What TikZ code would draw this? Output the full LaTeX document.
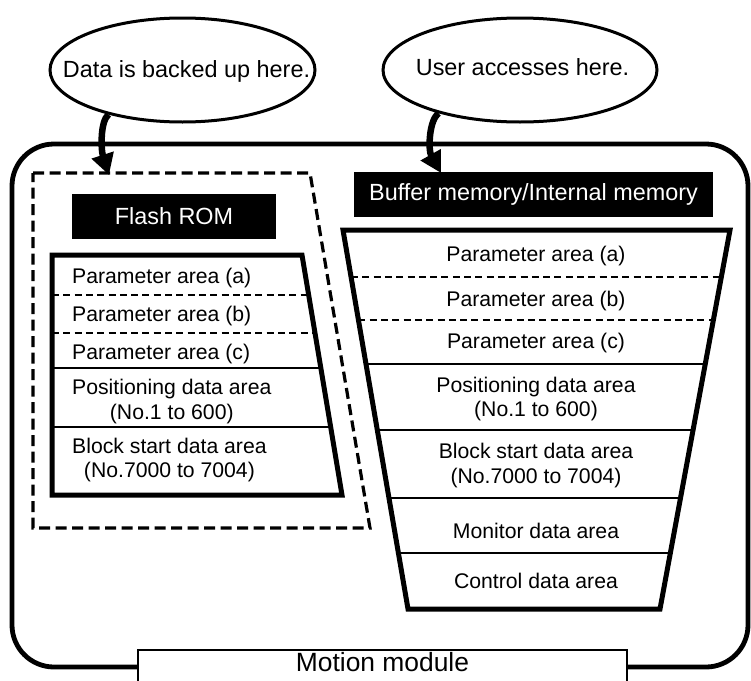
\documentclass[tikz,border=0pt]{standalone}
\usepackage{fontspec}
\setmainfont{Liberation Sans}
\usetikzlibrary{arrows.meta,shapes.geometric,calc}

\begin{document}
\begin{tikzpicture}[x=1pt,y=-1pt,
    cell/.style={inner sep=0pt, align=center, font=\fontsize{21.2}{24.5}\selectfont},
    hd/.style={fill=black, text=white, inner sep=0pt, minimum height=45pt, font=\fontsize{23.4}{28}\selectfont},
    bubble/.style={ellipse, draw, line width=3pt, inner sep=0pt, minimum height=104pt},
    bubtext/.style={inner sep=0pt, font=\fontsize{23.4}{28}\selectfont},
    bigarrow/.style={line width=6.5pt, -{Triangle[length=21pt,width=22pt]}},
    frame/.style={line width=5pt, line join=miter},
    sep/.style={line width=2.5pt},
    dsep/.style={line width=2.2pt, dash pattern=on 7pt off 4.3pt},
  ]
    \useasboundingbox (0,0) rectangle (751,680);

    % module outline
    \draw[line width=4.8pt, rounded corners=42pt] (12,144) rectangle (748,667);
    \filldraw[fill=white, line width=1.8pt] (138,700) -- (138,650) -- (627,650) -- (627,700);
    \node[font=\fontsize{26.4}{30}\selectfont, inner sep=0pt] (mod) at (382.5,662.5) {Motion module};

    % bubbles
    \node[bubble, minimum width=265pt] (bkup) at (182.5,70) {};
    \node[bubtext, anchor=base] (bkuptxt) at (186.5,77) {Data is backed up here.};
    \node[bubble, minimum width=274pt] (acc) at (520,70) {};
    \node[bubtext, anchor=base] (acctxt) at (522.5,75) {User accesses here.};

    \coordinate (romtop) at (109,175);
    \coordinate (buftop) at (441,173);
    \draw[bigarrow] (bkup.211) .. controls (100,122) and (101,150) .. (romtop);
    \draw[bigarrow] (acc.208) .. controls (429,120) and (428,150) .. (buftop);

    % flash rom side
    \draw[line width=3.2pt, dash pattern=on 11pt off 5.5pt] (33,173) -- (310,173) -- (370,528) -- (33,528) -- cycle;
    \node[hd, minimum width=204pt] (rom) at (174,216) {Flash ROM};
    \coordinate (ltl) at (52,255);
    \coordinate (ltr) at (302,255);
    \coordinate (lbr) at (342,495);
    \coordinate (lbl) at (52,495);
    \foreach \t in {0.1667,0.325}
      \draw[dsep] ($(ltl)!\t!(lbl)$) -- ($(ltr)!\t!(lbr)$);
    \foreach \t in {0.471,0.7167}
      \draw[sep] ($(ltl)!\t!(lbl)$) -- ($(ltr)!\t!(lbr)$);
    \draw[frame] (ltl) -- (ltr) -- (lbr) -- (lbl) -- cycle;

    \node[cell, anchor=west] (la) at (72,278.5) {Parameter area (a)};
    \node[cell, anchor=west] (lb) at (72,316) {Parameter area (b)};
    \node[cell, anchor=west] (lc) at (72,354) {Parameter area (c)};
    \node[cell, anchor=west] (lpos) at (72,401.5) {Positioning data area\\(No.1 to 600)};
    \node[cell, anchor=west] (lblk) at (72,460) {Block start data area\\(No.7000 to 7004)};

    % buffer memory side
    \node[hd, minimum width=359pt] (buf) at (533.5,194) {Buffer memory/Internal memory};
    \coordinate (rtl) at (343,230);
    \coordinate (rtr) at (730,230);
    \coordinate (rbr) at (660,609);
    \coordinate (rbl) at (408,609);
    \foreach \t in {0.124,0.2375}
      \draw[dsep] ($(rtl)!\t!(rbl)$) -- ($(rtr)!\t!(rbr)$);
    \foreach \t in {0.3536,0.5277,0.7071,0.8522}
      \draw[sep] ($(rtl)!\t!(rbl)$) -- ($(rtr)!\t!(rbr)$);
    \draw[frame] (rtl) -- (rtr) -- (rbr) -- (rbl) -- cycle;

    \node[cell] (ra) at (536,256.5) {Parameter area (a)};
    \node[cell] (rb) at (536,301) {Parameter area (b)};
    \node[cell] (rc) at (536,343) {Parameter area (c)};
    \node[cell] (rpos) at (536,399) {Positioning data area\\(No.1 to 600)};
    \node[cell] (rblk) at (536,465.5) {Block start data area\\(No.7000 to 7004)};
    \node[cell] (rmon) at (536,530.5) {Monitor data area};
    \node[cell] (rctl) at (536,580.5) {Control data area};
\end{tikzpicture}
\end{document}
